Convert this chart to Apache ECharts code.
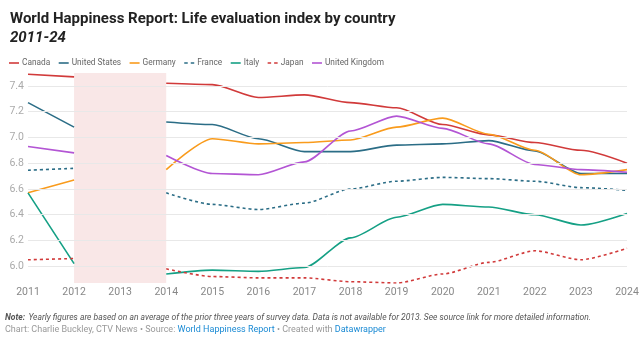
<!DOCTYPE html>
<html>
<head>
<meta charset="utf-8">
<script src="https://cdn.jsdelivr.net/npm/echarts@6/dist/echarts.min.js"></script>
<style>
html,body{margin:0;padding:0;background:#fff;}
#chart{width:643px;height:339px;}
</style>
</head>
<body>
<div id="chart"></div>
<script>
const years = ['2011','2012','2013','2014','2015','2016','2017','2018','2019','2020','2021','2022','2023','2024'];
const yTicks = [6.0, 6.2, 6.4, 6.6, 6.8, 7.0, 7.2, 7.4];
const canada  = [7.49, 7.47, null, 7.42, 7.41, 7.31, 7.33, 7.27, 7.23, 7.10, 7.02, 6.96, 6.90, 6.80];
const usa     = [7.27, 7.08, null, 7.12, 7.10, 6.99, 6.89, 6.89, 6.94, 6.95, 6.975, 6.895, 6.72, 6.72];
const germany = [6.57, 6.67, null, 6.75, 6.99, 6.95, 6.96, 6.98, 7.08, 7.15, 7.025, 6.90, 6.71, 6.75];
const france  = [6.745, 6.76, null, 6.57, 6.48, 6.44, 6.49, 6.60, 6.66, 6.69, 6.68, 6.66, 6.61, 6.59];
const italy   = [6.57, 6.02, null, 5.94, 5.97, 5.96, 5.99, 6.22, 6.38, 6.48, 6.46, 6.40, 6.32, 6.41];
const japan   = [6.05, 6.06, null, 5.98, 5.92, 5.91, 5.91, 5.88, 5.87, 5.94, 6.03, 6.12, 6.05, 6.14];
const uk      = [6.93, 6.88, null, 6.86, 6.72, 6.71, 6.81, 7.05, 7.165, 7.07, 6.95, 6.79, 6.75, 6.73];
const gapRange = ['2012', '2014'];

const chart = echarts.init(document.getElementById('chart'), null, {renderer: 'canvas'});
const FONT = 'Roboto, "Noto Sans", sans-serif';
const SOLID = 'path://M0,0H10V1.6H0Z';
const DASH = 'path://M0,0H3.5V1.6H0Z M6.5,0H10V1.6H6.5Z';

function line(name, data, color, dashed) {
  return {
    name: name, type: 'line', data: data,
    symbol: 'none', showSymbol: false,
    smooth: 0.25, smoothMonotone: 'x',
    connectNulls: false,
    lineStyle: {color: color, width: 1.6, type: dashed ? [3, 3] : 'solid'},
    itemStyle: {color: color},
    emphasis: {disabled: true},
    z: 3
  };
}

const series = [
  line('Canada', canada, '#d13a3a', false),
  line('United States', usa, '#2b6d86', false),
  line('Germany', germany, '#f99b1c', false),
  line('France', france, '#2b6d86', true),
  line('Italy', italy, '#15a085', false),
  line('Japan', japan, '#d13a3a', true),
  line('United Kingdom', uk, '#b355d4', false),
  {
    name: 'bg', type: 'line', data: [], silent: true, z: 1,
    markArea: {
      silent: true,
      itemStyle: {color: '#f9e7e7'},
      data: [[{xAxis: gapRange[0]}, {xAxis: gapRange[1]}]]
    },
    markLine: {
      silent: true, symbol: 'none', label: {show: false},
      lineStyle: {color: '#e8e8e8', width: 1, type: 'solid'},
      data: yTicks.map(v => ({yAxis: v}))
    }
  }
];

const legendNames = ['Canada','United States','Germany','France','Italy','Japan','United Kingdom'];
const dashedNames = ['France','Japan'];

chart.setOption({
  backgroundColor: '#fff',
  animation: false,
  textStyle: {fontFamily: FONT},
  title: [
    {text: 'World Happiness Report: Life evaluation index by country', left: 5, top: 7,
     textStyle: {fontFamily: FONT, fontSize: 15, fontWeight: 'bold', color: '#222'}},
    {text: '2011-24', left: 5, top: 26,
     textStyle: {fontFamily: FONT, fontSize: 15, fontWeight: 'bold', fontStyle: 'italic', color: '#222'}}
  ],
  legend: {
    left: 4, top: 54,
    data: legendNames.map(n => ({name: n, icon: dashedNames.includes(n) ? DASH : SOLID})),
    itemWidth: 10, itemHeight: 1.6, itemGap: 8.5,
    textStyle: {fontFamily: FONT, fontSize: 8.3, color: '#666', padding: [0,0,0,-2]},
    selectedMode: false
  },
  grid: {left: 28, right: 16, top: 73, bottom: 56, containLabel: false},
  xAxis: {
    type: 'category', data: years, boundaryGap: false,
    axisLine: {show: false}, axisTick: {show: false}, splitLine: {show: false},
    axisLabel: {color: '#888', fontSize: 10.5, fontFamily: FONT, margin: 4, interval: 0}
  },
  yAxis: {
    type: 'value', min: 5.87, max: 7.5,
    axisLine: {show: false}, axisTick: {show: false}, splitLine: {show: false},
    axisLabel: {color: '#aaa', fontSize: 10.5, fontFamily: FONT, margin: 4,
      customValues: yTicks, formatter: v => v.toFixed(1)}
  },
  series: series,
  graphic: [
    {type: 'text', left: 5, top: 312, style: {
      rich: {
        b: {fontFamily: FONT, fontSize: 8.5, fontWeight: 'bold', fontStyle: 'italic', fill: '#555'},
        i: {fontFamily: FONT, fontSize: 8.5, fontStyle: 'italic', fill: '#555'}
      },
      text: '{b|Note:} {i|Yearly figures are based on an average of the prior three years of survey data. Data is not available for 2013. See source link for more detailed information.}'
    }},
    {type: 'text', left: 5, top: 325, style: {
      rich: {
        g: {fontFamily: FONT, fontSize: 9, fill: '#999'},
        l: {fontFamily: FONT, fontSize: 9, fill: '#1a8ad4'}
      },
      text: '{g|Chart: Charlie Buckley, CTV News • Source: }{l|World Happiness Report}{g| • Created with }{l|Datawrapper}'
    }}
  ]
});
</script>
</body>
</html>
